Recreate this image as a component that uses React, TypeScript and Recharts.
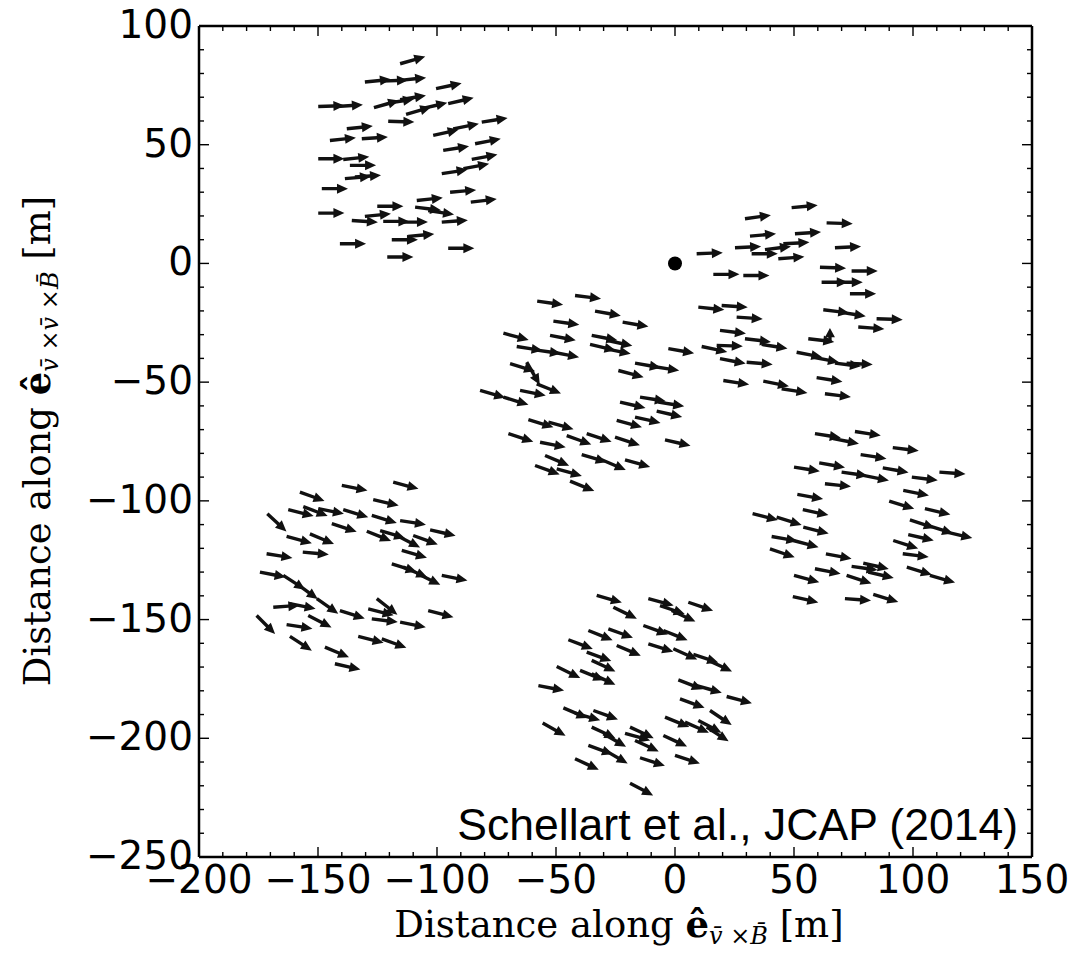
import React from 'react';
import { ScatterChart, Scatter, XAxis, YAxis, ReferenceLine } from 'recharts';

// [x, y, angle in degrees, optional length] — arrow tail in metres
type Arrow = [number, number, number, number?];

const ARROW_LEN = 11;

const northWest: Arrow[] = [
  [-115.5, 84.1, 16], [-130.3, 76.4, 6], [-123.2, 76.8, 2], [-115.5, 77.1, 6], [-100.4, 73.6, 12],
  [-149.9, 66.1, 2], [-142.1, 66.1, 4], [-126.5, 65.6, 16], [-120.5, 67.5, 9], [-115.5, 69.0, 9],
  [-113.0, 62.8, 16], [-106.4, 65.2, 13], [-95.3, 67.3, 13], [-120.5, 59.9, -2], [-137.9, 56.7, 6],
  [-81.2, 59.5, 9], [-93.2, 56.7, 11], [-101.6, 53.9, 13], [-145.0, 51.8, 6], [-131.6, 52.5, 4],
  [-97.4, 47.6, 9], [-84.0, 50.4, 11], [-149.9, 44.1, 0], [-139.4, 43.8, 6], [-136.6, 41.3, 0],
  [-85.4, 43.8, 11], [-98.0, 37.8, 9], [-88.9, 39.9, 11], [-138.7, 35.7, 5], [-134.5, 36.4, 4],
  [-148.4, 31.5, 0], [-94.5, 30.0, 5], [-85.8, 25.8, 7], [-125.1, 24.1, 0], [-108.5, 26.5, 6],
  [-109.2, 23.7, -7], [-103.7, 22.3, -9], [-149.9, 21.2, 0], [-135.8, 18.1, -4], [-130.3, 19.8, 6],
  [-122.6, 17.7, 0], [-114.8, 17.4, 0], [-98.0, 17.4, 4], [-119.0, 10.0, 0], [-112.1, 11.4, 5],
  [-140.8, 8.3, 0], [-95.3, 6.4, 0], [-120.9, 2.7, 0],
];

const northEast: Arrow[] = [
  [49.0, 23.5, 5], [29.4, 18.8, 8], [63.7, 17.1, -2], [31.5, 11.5, 5], [50.4, 12.5, 4],
  [9.1, 4.1, 2], [25.2, 6.6, 3], [32.2, 4.1, 0], [37.8, 5.8, 7], [45.5, 8.3, 3],
  [43.4, 2.0, 4], [67.2, 6.6, 3], [16.1, -4.6, 0], [28.7, -5.1, 0], [60.9, -1.6, -2],
  [74.2, -3.2, 0], [61.6, -7.9, 0], [67.9, -7.9, 0], [73.5, -12.8, 0], [9.8, -18.4, -6],
  [19.6, -17.7, -4], [25.9, -22.6, -4], [62.3, -19.5, -7], [69.3, -20.5, -9], [84.7, -23.3, -2],
  [77.0, -26.8, -4], [56.0, -31.7, -7], [65.1, -33.2, 90, 6], [18.9, -28.2, -7], [29.4, -31.7, -7],
  [36.4, -34.1, -9], [11.2, -35.0, -12], [17.5, -34.5, -2], [18.9, -40.1, -11], [30.1, -41.6, -5],
  [51.1, -37.4, -11], [58.1, -39.5, -11], [67.2, -42.0, -7], [72.1, -42.0, -3], [20.3, -49.3, -9],
  [37.1, -49.6, -11], [44.8, -52.8, -9], [59.5, -48.1, -9], [63.0, -54.9, -7],
];

const centre: Arrow[] = [
  [-42.0, -13.5, -7], [-57.9, -15.9, -8], [-33.6, -20.1, -10], [-22.0, -24.7, -10], [-51.1, -24.3, -8],
  [-72.1, -29.4, -15], [-52.5, -30.3, -11], [-35.0, -30.3, -11], [-28.7, -32.4, -12], [-35.7, -34.1, -13],
  [-29.4, -35.9, -11], [-66.5, -35.0, -9], [-58.8, -36.4, -8], [-51.1, -37.4, -11], [-2.8, -35.9, -10],
  [-69.3, -42.2, -17], [-62.3, -41.6, -60], [-58.1, -50.7, -22], [-65.1, -53.5, -11], [-16.8, -42.0, -10],
  [-9.1, -43.4, -9], [-23.8, -45.1, -15], [-81.9, -53.5, -16], [-72.1, -56.3, -17], [-14.7, -56.3, -9],
  [-23.1, -58.4, -13], [-7.0, -58.4, -9], [-7.7, -62.2, -13], [-16.8, -64.7, -13], [-24.5, -66.1, -15],
  [-61.6, -65.8, -17], [-53.2, -66.8, -16], [-70.0, -71.7, -18], [-56.7, -75.3, -11], [-45.5, -72.5, -20],
  [-37.1, -71.7, -18], [-25.2, -73.2, -18], [-4.2, -74.3, -13], [-54.6, -80.9, -23], [-39.2, -80.5, -17],
  [-30.8, -82.7, -23], [-21.0, -82.7, -16], [-58.8, -85.1, -20], [-49.7, -86.5, -16], [-44.1, -91.7, -22],
];

const east: Arrow[] = [
  [58.8, -71.7, -9], [66.5, -73.8, -11], [75.6, -70.8, -9], [91.5, -77.6, -7], [78.0, -80.5, -9],
  [50.0, -85.8, -9], [60.6, -84.0, -10], [70.0, -87.9, -8], [79.1, -89.3, -11], [87.3, -86.1, -10],
  [99.5, -90.0, -7], [111.1, -87.9, -4], [63.0, -92.8, -6], [51.4, -97.3, -10], [95.9, -95.6, -11],
  [90.0, -100.1, -17], [105.0, -103.3, -13], [53.7, -103.7, -12], [32.6, -105.4, -14], [42.7, -106.9, -17],
  [53.9, -111.1, -14], [98.7, -108.0, -18], [106.4, -110.4, -18], [114.2, -113.2, -13], [40.6, -115.0, -10],
  [49.7, -116.7, -15], [98.0, -114.2, -13], [91.7, -116.7, -18], [95.7, -122.3, -7], [39.9, -120.2, -19],
  [63.4, -122.3, -11], [97.4, -127.9, -17], [107.1, -131.4, -16], [58.8, -128.6, -11], [74.2, -127.6, -8],
  [79.1, -126.2, -13], [81.2, -130.0, -13], [72.1, -131.4, -18], [50.0, -131.4, -15], [49.5, -140.3, -13],
  [71.4, -141.2, -4], [83.3, -139.4, -17],
];

const southWest: Arrow[] = [
  [-140.0, -93.5, -11], [-118.4, -92.1, -15], [-157.6, -96.3, -20], [-126.8, -99.5, -13], [-162.5, -103.7, -14],
  [-156.2, -102.4, -21], [-149.9, -103.3, -11], [-139.4, -103.7, -17], [-171.3, -105.4, -43], [-127.4, -106.1, -17],
  [-115.5, -108.3, -9], [-144.2, -109.6, -18], [-102.9, -112.2, -13], [-129.5, -112.8, -22], [-123.9, -112.5, -17],
  [-116.9, -114.6, -27], [-110.0, -114.6, -20], [-163.2, -115.0, -15], [-153.4, -113.9, -23], [-171.6, -122.3, -9],
  [-156.4, -121.6, -5], [-114.8, -120.9, -16], [-119.0, -126.5, -18], [-114.2, -127.9, -23], [-108.5, -130.5, -26],
  [-98.0, -131.4, -11], [-174.4, -130.0, -11], [-164.6, -131.4, -33], [-159.0, -134.9, -36], [-150.5, -141.2, -35],
  [-168.8, -144.8, 4], [-161.8, -143.3, -11], [-140.8, -146.2, -18], [-125.3, -141.2, -38], [-128.9, -145.5, -14],
  [-127.4, -149.7, -7], [-115.5, -151.1, -11], [-103.7, -146.2, -15], [-175.8, -148.3, -45], [-154.1, -148.3, -27],
  [-163.2, -152.1, -9], [-161.8, -157.1, -33], [-133.1, -157.1, -14], [-123.2, -158.1, -20], [-147.1, -161.6, -23],
  [-142.9, -168.6, -13],
];

const south: Arrow[] = [
  [-32.9, -139.8, -16], [-11.2, -141.2, -15], [-6.3, -144.1, -19], [-1.4, -146.2, -25], [5.6, -142.7, -19],
  [-25.9, -144.8, -26], [-36.4, -154.6, -22], [-28.0, -153.9, -20], [-13.3, -152.5, -20], [-4.9, -154.6, -22],
  [-44.8, -158.5, -21], [-24.5, -160.9, -23], [-11.2, -160.2, -18], [-0.7, -162.3, -24], [7.7, -164.7, -18],
  [14.0, -167.2, -25], [-37.1, -163.7, -20], [-35.0, -167.2, -25], [-49.7, -169.8, -26], [-39.9, -171.4, -22],
  [-35.0, -172.8, -25], [-57.4, -177.8, -11], [1.4, -175.4, -21], [9.1, -177.8, -16], [21.7, -182.4, -15],
  [2.1, -183.4, -20], [14.7, -188.3, -34], [-46.9, -187.2, -23], [-42.0, -189.4, -16], [-34.3, -188.3, -20],
  [-4.2, -191.1, -22], [4.2, -193.2, -24], [9.8, -192.5, -28], [13.3, -195.3, -33], [-55.6, -193.6, -29],
  [-35.0, -195.3, -25], [-30.1, -198.1, -30], [-18.9, -195.3, -25], [-21.0, -197.9, -16], [-16.8, -200.9, -25],
  [-4.9, -198.8, -25], [-36.4, -203.0, -20], [-29.4, -205.1, -30], [-14.7, -208.2, -18], [0.0, -207.2, -18],
  [-42.0, -208.6, -25], [-18.9, -218.9, -28],
];

const coreData = [{ x: 0, y: 0 }];

const xTicks = [
  -200, -190, -180, -170, -160, -150, -140, -130, -120, -110, -100, -90, -80, -70, -60, -50, -40, -30,
  -20, -10, 0, 10, 20, 30, 40, 50, 60, 70, 80, 90, 100, 110, 120, 130, 140, 150,
];
const yTicks = [
  -250, -240, -230, -220, -210, -200, -190, -180, -170, -160, -150, -140, -130, -120, -110, -100, -90, -80,
  -70, -60, -50, -40, -30, -20, -10, 0, 10, 20, 30, 40, 50, 60, 70, 80, 90, 100,
];

const allArrows = [...northWest, ...northEast, ...centre, ...east, ...southWest, ...south];

const fmt = (v: number) => (v < 0 ? '\u2212' + Math.abs(v) : String(v));
const isMajor = (v: number) => v % 50 === 0;
const tickFont = { fontFamily: 'DejaVu Sans', fontSize: 39, fill: '#000' };

const BottomTick = ({ x, y, payload }: any) => (
  <g>
    <line x1={x} x2={x} y1={y} y2={y - (isMajor(payload.value) ? 10 : 5)} stroke="#000" strokeWidth={1.4} />
    {isMajor(payload.value) && (
      <text x={x} y={y + 36} textAnchor="middle" {...tickFont}>{fmt(payload.value)}</text>
    )}
  </g>
);

const TopTick = ({ x, y, payload }: any) => (
  <line x1={x} x2={x} y1={y} y2={y + (isMajor(payload.value) ? 10 : 5)} stroke="#000" strokeWidth={1.4} />
);

const LeftTick = ({ x, y, payload }: any) => (
  <g>
    <line x1={x} x2={x + (isMajor(payload.value) ? 10 : 5)} y1={y} y2={y} stroke="#000" strokeWidth={1.4} />
    {isMajor(payload.value) && (
      <text x={x - 6} y={y + 12} textAnchor="end" {...tickFont}>{fmt(payload.value)}</text>
    )}
  </g>
);

const RightTick = ({ x, y, payload }: any) => (
  <line x1={x} x2={x - (isMajor(payload.value) ? 10 : 5)} y1={y} y2={y} stroke="#000" strokeWidth={1.4} />
);

// quiver-style arrow drawn between the pixel end points given by the reference line
const ArrowShape = ({ x1, y1, x2, y2 }: any) => {
  const dx = x2 - x1;
  const dy = y2 - y1;
  const len = Math.hypot(dx, dy) || 1;
  const ux = dx / len, uy = dy / len;
  const nx = -uy, ny = ux;
  const hl = Math.min(11, len * 0.65);
  const hw = 5, sw = 1.7;
  const bx = x2 - ux * hl, by = y2 - uy * hl;
  const pts = [
    [x1 + nx * sw, y1 + ny * sw],
    [bx + nx * sw, by + ny * sw],
    [bx + nx * hw, by + ny * hw],
    [x2, y2],
    [bx - nx * hw, by - ny * hw],
    [bx - nx * sw, by - ny * sw],
    [x1 - nx * sw, y1 - ny * sw],
  ];
  return <polygon points={pts.map((p) => p.join(',')).join(' ')} fill="#111" />;
};

const CoreDot = ({ cx, cy }: any) => <circle cx={cx} cy={cy} r={7} fill="#000" />;

const axisLine = { stroke: '#000', strokeWidth: 2.5 };

const labelFont = { fontFamily: 'DejaVu Serif', fontSize: 37, fill: '#000' };
const sub = { fontSize: 24, fontStyle: 'italic' as const };

export default function App() {
  return (
    <div style={{ position: 'absolute', left: 0, top: 0, width: 1082, height: 960, background: '#fff' }}>
      <ScatterChart width={1082} height={960} margin={{ top: 16, right: 40, bottom: 43, left: 79 }}>
        <XAxis type="number" dataKey="x" domain={[-200, 150]} ticks={xTicks} interval={0} height={60}
          tickSize={0} tickMargin={0} tick={<BottomTick />} axisLine={axisLine} allowDataOverflow />
        <XAxis xAxisId="top" orientation="top" type="number" dataKey="x" domain={[-200, 150]} ticks={xTicks}
          interval={0} height={10} tickSize={0} tickMargin={0} tick={<TopTick />} axisLine={axisLine} allowDataOverflow />
        <YAxis type="number" dataKey="y" domain={[-250, 100]} ticks={yTicks} interval={0} width={120}
          tickSize={0} tickMargin={0} tick={<LeftTick />} axisLine={axisLine} allowDataOverflow />
        <YAxis yAxisId="right" orientation="right" type="number" dataKey="y" domain={[-250, 100]} ticks={yTicks}
          interval={0} width={10} tickSize={0} tickMargin={0} tick={<RightTick />} axisLine={axisLine} allowDataOverflow />
        {allArrows.map(([x, y, ang, l], i) => {
          const len = l ?? ARROW_LEN;
          const r = (ang * Math.PI) / 180;
          return (
            <ReferenceLine key={i} ifOverflow="visible"
              segment={[{ x, y }, { x: x + len * Math.cos(r), y: y + len * Math.sin(r) }]}
              shape={<ArrowShape />} />
          );
        })}
        <Scatter data={coreData} dataKey="y" shape={<CoreDot />} isAnimationActive={false} />
        <text x={1018} y={840} textAnchor="end" fontFamily="Liberation Sans" fontSize={44.5} fill="#000">
          Schellart et al., JCAP (2014)
        </text>
        <text x={619} y={937} textAnchor="middle" {...labelFont}>
          Distance along <tspan fontWeight="bold">ê</tspan>
          <tspan {...sub} dy={7}>{'v\u0304 \u00D7B\u0304'}</tspan>
          <tspan dy={-7}> [m]</tspan>
        </text>
        <text x={50} y={441} transform="rotate(-90 50 441)" textAnchor="middle" {...labelFont}>
          Distance along <tspan fontWeight="bold">ê</tspan>
          <tspan {...sub} dy={8}>{'v\u0304 \u00D7v\u0304 \u00D7B\u0304'}</tspan>
          <tspan dy={-8}> [m]</tspan>
        </text>
      </ScatterChart>
    </div>
  );
}
